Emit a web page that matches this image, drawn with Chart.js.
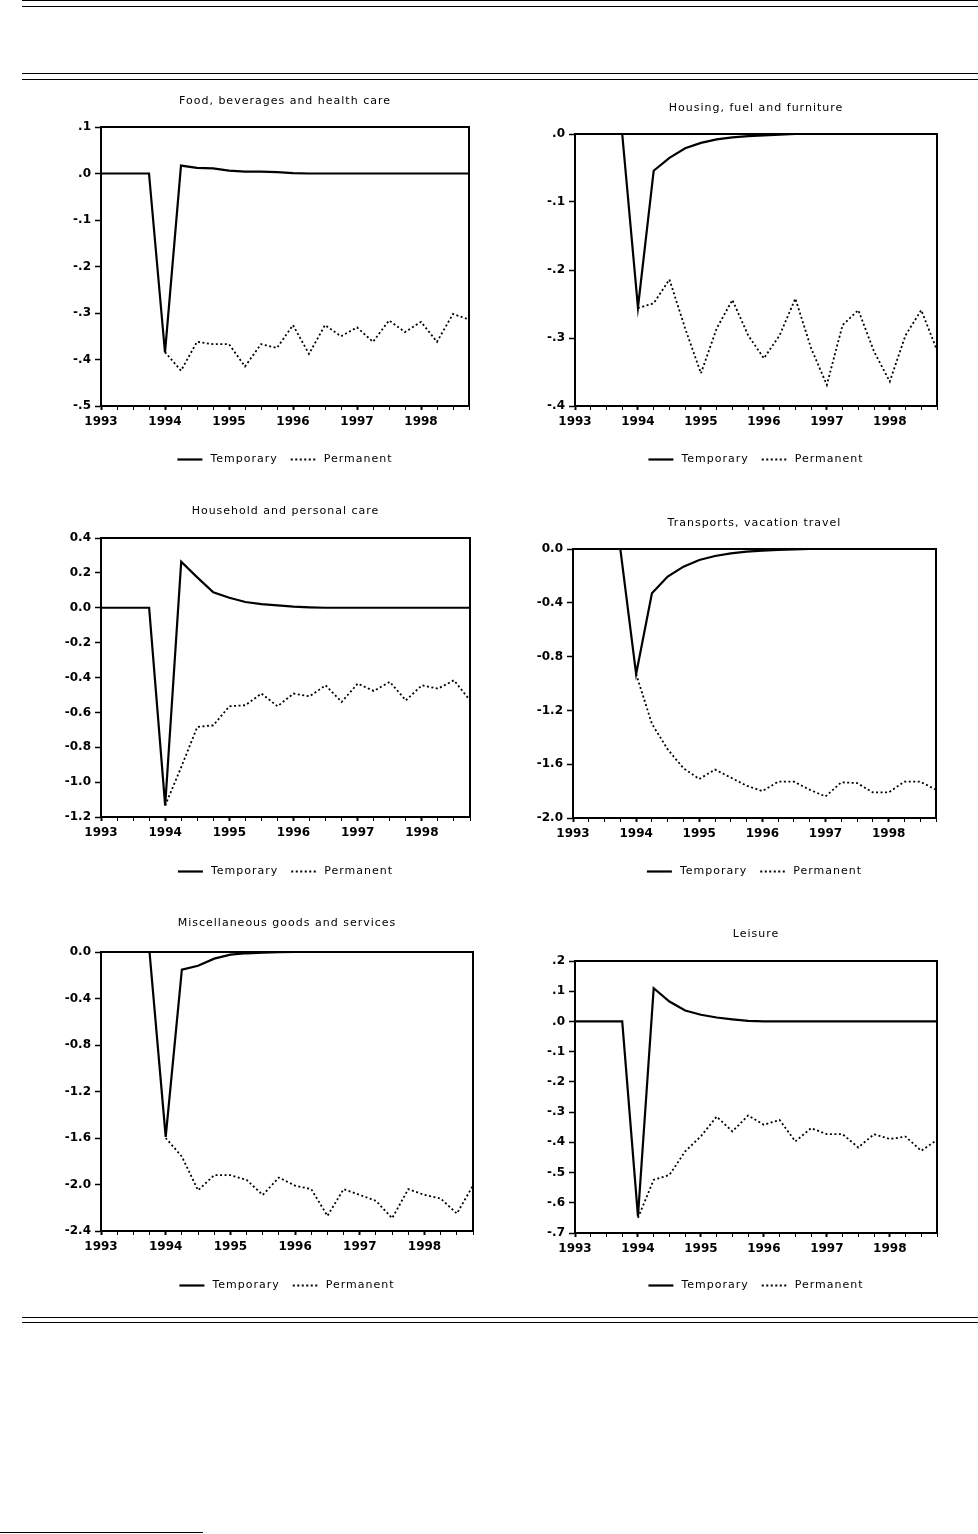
<!DOCTYPE html>
<html>
<head>
<meta charset="utf-8">
<script src="https://cdn.jsdelivr.net/npm/chart.js@4.4.1/dist/chart.umd.min.js"></script>
<style>
html,body{margin:0;padding:0;background:#fff;}
body{width:978px;height:1534px;position:relative;overflow:hidden;}
.rule{position:absolute;left:22px;width:956px;height:1px;background:#000;}
canvas{position:absolute;}
</style>
</head>
<body>
<div class="rule" style="top:0px"></div>
<div class="rule" style="top:6px"></div>
<div class="rule" style="top:73px"></div>
<div class="rule" style="top:79px"></div>
<div class="rule" style="top:1317px"></div>
<div class="rule" style="top:1322px"></div>
<div style="position:absolute;left:0;top:1532px;width:203px;height:1px;background:#000"></div>

<canvas id="c1"></canvas>
<canvas id="c2"></canvas>
<canvas id="c3"></canvas>
<canvas id="c4"></canvas>
<canvas id="c5"></canvas>
<canvas id="c6"></canvas>

<script>
// ---------- DATA ----------
const quarters = ['1993Q1','1993Q2','1993Q3','1993Q4','1994Q1','1994Q2','1994Q3','1994Q4',
                  '1995Q1','1995Q2','1995Q3','1995Q4','1996Q1','1996Q2','1996Q3','1996Q4',
                  '1997Q1','1997Q2','1997Q3','1997Q4','1998Q1','1998Q2','1998Q3','1998Q4'];
const xTickLabels = ['1993','1994','1995','1996','1997','1998'];
const seriesNames = ['Temporary','Permanent'];

const titles = ['Food, beverages and health care','Housing, fuel and furniture',
                'Household and personal care','Transports, vacation travel',
                'Miscellaneous goods and services','Leisure'];

const foodTemporary = [0,0,0,0,-0.385,0.017,0.012,0.011,0.006,0.004,0.004,0.003,0.001,0,0,0,0,0,0,0,0,0,0,0];
const foodPermanent = [null,null,null,null,-0.384,-0.424,-0.362,-0.367,-0.367,-0.415,-0.367,-0.375,-0.326,-0.388,-0.326,-0.350,-0.331,-0.362,-0.316,-0.341,-0.319,-0.362,-0.302,-0.314];
const foodTicks = ['.1','.0','-.1','-.2','-.3','-.4','-.5'];

const housingTemporary = [0,0,0,0,-0.255,-0.054,-0.035,-0.021,-0.013,-0.008,-0.005,-0.003,-0.002,-0.001,0,0,0,0,0,0,0,0,0,0];
const housingPermanent = [null,null,null,null,-0.256,-0.249,-0.214,-0.286,-0.352,-0.286,-0.244,-0.296,-0.330,-0.296,-0.242,-0.315,-0.369,-0.281,-0.259,-0.320,-0.364,-0.296,-0.259,-0.318];
const housingTicks = ['.0','-.1','-.2','-.3','-.4'];

const householdTemporary = [0,0,0,0,-1.134,0.264,0.174,0.088,0.057,0.033,0.021,0.014,0.006,0.002,0,0,0,0,0,0,0,0,0,0];
const householdPermanent = [null,null,null,null,-1.134,-0.914,-0.684,-0.674,-0.565,-0.559,-0.492,-0.565,-0.492,-0.508,-0.445,-0.540,-0.435,-0.477,-0.425,-0.531,-0.445,-0.464,-0.416,-0.531];
const householdTicks = ['0.4','0.2','0.0','-0.2','-0.4','-0.6','-0.8','-1.0','-1.2'];

const transportsTemporary = [0,0,0,0,-0.93,-0.329,-0.205,-0.131,-0.082,-0.052,-0.032,-0.020,-0.012,-0.007,-0.003,0,0,0,0,0,0,0,0,0];
const transportsPermanent = [null,null,null,null,-0.93,-1.30,-1.49,-1.63,-1.71,-1.64,-1.70,-1.76,-1.80,-1.73,-1.73,-1.79,-1.84,-1.735,-1.74,-1.81,-1.81,-1.73,-1.73,-1.79];
const transportsTicks = ['0.0','-0.4','-0.8','-1.2','-1.6','-2.0'];

const miscTemporary = [0,0,0,0,-1.59,-0.152,-0.118,-0.057,-0.023,-0.011,-0.006,-0.002,0,0,0,0,0,0,0,0,0,0,0,0];
const miscPermanent = [null,null,null,null,-1.60,-1.76,-2.05,-1.92,-1.92,-1.96,-2.09,-1.94,-2.01,-2.04,-2.27,-2.04,-2.09,-2.14,-2.29,-2.04,-2.09,-2.12,-2.25,-2.01];
const miscTicks = ['0.0','-0.4','-0.8','-1.2','-1.6','-2.0','-2.4'];

const leisureTemporary = [0,0,0,0,-0.645,0.110,0.066,0.036,0.022,0.013,0.007,0.002,0,0,0,0,0,0,0,0,0,0,0,0];
const leisurePermanent = [null,null,null,null,-0.65,-0.524,-0.508,-0.430,-0.380,-0.315,-0.364,-0.311,-0.342,-0.326,-0.397,-0.353,-0.373,-0.373,-0.417,-0.373,-0.389,-0.381,-0.428,-0.392];
const leisureTicks = ['.2','.1','.0','-.1','-.2','-.3','-.4','-.5','-.6','-.7'];

// ---------- LAYOUT ----------
const panels = [
  {id:'c1', title:titles[0], temp:foodTemporary, perm:foodPermanent, ticks:foodTicks, min:-0.5, max:0.1, step:0.1,
   plot:{l:101,t:127,r:469,b:406}, titleOff:26, legendOff:53},
  {id:'c2', title:titles[1], temp:housingTemporary, perm:housingPermanent, ticks:housingTicks, min:-0.4, max:0.0, step:0.1,
   plot:{l:575,t:134,r:937,b:406}, titleOff:26, legendOff:53},
  {id:'c3', title:titles[2], temp:householdTemporary, perm:householdPermanent, ticks:householdTicks, min:-1.2, max:0.4, step:0.2,
   plot:{l:101,t:538,r:470,b:817}, titleOff:27, legendOff:54},
  {id:'c4', title:titles[3], temp:transportsTemporary, perm:transportsPermanent, ticks:transportsTicks, min:-2.0, max:0.0, step:0.4,
   plot:{l:573,t:549,r:936,b:818}, titleOff:26, legendOff:53},
  {id:'c5', title:titles[4], temp:miscTemporary, perm:miscPermanent, ticks:miscTicks, min:-2.4, max:0.0, step:0.4,
   plot:{l:101,t:952,r:473,b:1231}, titleOff:29, legendOff:54},
  {id:'c6', title:titles[5], temp:leisureTemporary, perm:leisurePermanent, ticks:leisureTicks, min:-0.7, max:0.2, step:0.1,
   plot:{l:575,t:961,r:937,b:1233}, titleOff:27, legendOff:52}
];

const PAD_L = 64, PAD_T = 45, PAD_R = 20, PAD_B = 70;
const FONT = '"DejaVu Sans", "Liberation Sans", sans-serif';

const decor = {
  id: 'decor',
  afterDraw(chart, args, opts) {
    const ctx = chart.ctx;
    const a = chart.chartArea;
    ctx.save();
    // frame
    ctx.strokeStyle = '#000';
    ctx.lineWidth = 2;
    ctx.setLineDash([]);
    ctx.strokeRect(a.left, a.top, a.right - a.left, a.bottom - a.top);
    // title
    const cx = (a.left + a.right) / 2;
    ctx.fillStyle = '#000';
    ctx.font = '500 11px ' + FONT;
    try { ctx.letterSpacing = '1px'; } catch(e) {}
    ctx.textAlign = 'center';
    ctx.textBaseline = 'middle';
    ctx.fillText(opts.title, cx, a.top - opts.titleOff);
    // legend
    const ds = chart.data.datasets;
    const lineLen = 25, gap1 = 8, gap2 = 13;
    ctx.textAlign = 'left';
    const w0 = ctx.measureText(ds[0].label).width;
    const w1 = ctx.measureText(ds[1].label).width;
    const total = lineLen + gap1 + w0 + gap2 + lineLen + gap1 + w1;
    let x = cx - total / 2;
    const y = a.bottom + opts.legendOff;
    for (let i = 0; i < 2; i++) {
      ctx.beginPath();
      ctx.lineWidth = ds[i].borderWidth;
      ctx.setLineDash(ds[i].borderDash || []);
      ctx.moveTo(x, y + 0.5);
      ctx.lineTo(x + lineLen, y + 0.5);
      ctx.stroke();
      ctx.setLineDash([]);
      x += lineLen + gap1;
      ctx.fillText(ds[i].label, x, y);
      x += (i === 0 ? w0 : w1) + gap2;
    }
    ctx.restore();
  }
};

function build(p) {
  const cv = document.getElementById(p.id);
  const w = p.plot.r - p.plot.l + PAD_L + PAD_R;
  const h = p.plot.b - p.plot.t + PAD_T + PAD_B;
  cv.width = w; cv.height = h;
  cv.style.width = w + 'px'; cv.style.height = h + 'px';
  cv.style.left = (p.plot.l - PAD_L) + 'px';
  cv.style.top = (p.plot.t - PAD_T) + 'px';
  new Chart(cv, {
    type: 'line',
    data: {
      labels: quarters,
      datasets: [
        {label: seriesNames[0], data: p.temp, borderColor:'#000', backgroundColor:'#000', borderWidth:2.2,
         pointRadius:0, tension:0, fill:false, borderJoinStyle:'miter'},
        {label: seriesNames[1], data: p.perm, borderColor:'#000', backgroundColor:'#000', borderWidth:1.8,
         borderDash:[2,2.5], pointRadius:0, tension:0, fill:false}
      ]
    },
    options: {
      responsive: false,
      animation: false,
      devicePixelRatio: 1,
      events: [],
      layout: {padding: {left:0, top:PAD_T, right:PAD_R, bottom:0}},
      plugins: {
        legend: {display:false},
        title: {display:false},
        tooltip: {enabled:false},
        decor: {title: p.title, titleOff: p.titleOff, legendOff: p.legendOff}
      },
      scales: {
        x: {
          type: 'category',
          offset: false,
          grid: {display:true, drawOnChartArea:false, drawTicks:true, tickLength:4,
                 color:'#000', tickColor:'#000',
                 tickWidth: (c) => (c.index % 4 === 0 ? 2 : 1)},
          border: {display:true, color:'#000', width:2},
          ticks: {autoSkip:false, maxRotation:0, minRotation:0, padding:5, color:'#000',
                  font:{family:FONT, size:12, weight:'bold'},
                  callback: (v, i) => (i % 4 === 0 ? xTickLabels[i / 4] : '')},
          afterFit: (s) => { s.height = PAD_B; }
        },
        y: {
          type: 'linear',
          min: p.min, max: p.max,
          grid: {display:true, drawOnChartArea:false, drawTicks:true, tickLength:6,
                 color:'#000', tickColor:'#000', tickWidth:1.5},
          border: {display:true, color:'#000', width:2},
          ticks: {stepSize: p.step, autoSkip:false, padding:4, color:'#000',
                  font:{family:FONT, size:12, weight:'bold'},
                  callback: (v) => p.ticks[Math.round((p.max - v) / p.step)]},
          afterFit: (s) => { s.width = PAD_L; }
        }
      }
    },
    plugins: [decor]
  });
}

panels.forEach(build);
</script>
</body>
</html>
